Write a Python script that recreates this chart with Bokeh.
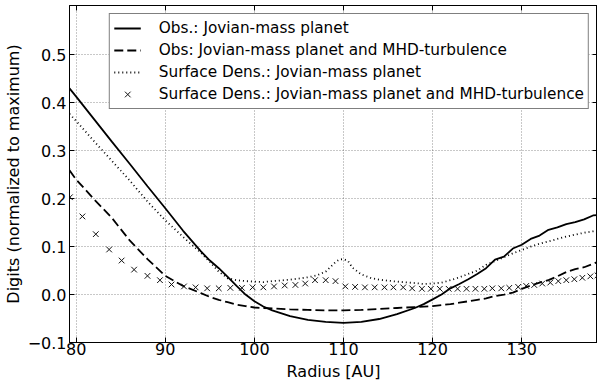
from bokeh.plotting import figure
from bokeh.models import (Range1d, LinearAxis, FixedTicker, CustomJSTickFormatter,
                          Legend, LegendItem, ColumnDataSource)
from bokeh.embed import file_html
from bokeh.resources import INLINE

# ---- data ----
radius_obs = [79.25, 80, 82, 84, 86, 88, 90, 92, 94, 95, 96, 97, 98, 99, 100, 101, 102,
              104, 106, 108, 110, 112, 114, 116, 118, 119, 120, 121, 122, 123, 124, 125,
              126, 127, 128, 129, 130, 131, 132, 133, 134, 135, 136, 137, 138, 138.5]
obs_jovian = [0.430, 0.413, 0.366, 0.319, 0.273, 0.226, 0.180, 0.133, 0.090, 0.071, 0.055,
              0.037, 0.018, 0.000, -0.014, -0.025, -0.033, -0.045, -0.053, -0.057, -0.059,
              -0.057, -0.051, -0.041, -0.028, -0.020, -0.010, 0.000, 0.013, 0.022, 0.032,
              0.043, 0.055, 0.073, 0.079, 0.096, 0.104, 0.116, 0.123, 0.135, 0.140, 0.147,
              0.151, 0.157, 0.165, 0.166]
obs_jovian_mhd = [0.259, 0.240, 0.199, 0.160, 0.113, 0.074, 0.039, 0.018, 0.003, -0.005,
                  -0.011, -0.016, -0.021, -0.024, -0.027, -0.028, -0.029, -0.031, -0.032,
                  -0.033, -0.033, -0.032, -0.030, -0.028, -0.026, -0.025, -0.024, -0.022,
                  -0.020, -0.017, -0.014, -0.011, -0.008, -0.003, 0.000, 0.004, 0.012, 0.019,
                  0.025, 0.030, 0.038, 0.047, 0.053, 0.057, 0.064, 0.068]

radius_sd = [79.25, 80, 82, 84, 86, 88, 90, 92, 94, 95, 96, 97, 98, 99, 100, 101, 102, 104,
             106, 107, 108, 109, 109.5, 110, 110.5, 111, 112, 113, 114, 116, 118, 119, 120,
             121, 122, 123, 124, 125, 126, 127, 128, 129, 130, 131, 132, 133, 134, 135, 136,
             137, 138, 138.5]
sd_jovian = [0.377, 0.362, 0.320, 0.279, 0.238, 0.194, 0.155, 0.120, 0.087, 0.068, 0.048,
             0.034, 0.030, 0.028, 0.027, 0.026, 0.028, 0.031, 0.036, 0.040, 0.048, 0.066,
             0.073, 0.074, 0.070, 0.056, 0.042, 0.035, 0.031, 0.027, 0.024, 0.022, 0.023,
             0.025, 0.030, 0.036, 0.043, 0.050, 0.062, 0.070, 0.078, 0.086, 0.093, 0.100,
             0.106, 0.111, 0.116, 0.121, 0.125, 0.129, 0.132, 0.134]

radius_sd_mhd = [79.3, 80.7, 82.2, 83.7, 85.1, 86.5, 88.0, 89.4, 90.7, 92.1, 93.4, 94.7, 96.0,
                 97.3, 98.6, 99.8, 101.0, 102.2, 103.4, 104.6, 105.7, 106.8, 108.0, 109.1,
                 110.2, 111.3, 112.4, 113.5, 114.6, 115.6, 116.7, 117.7, 118.8, 119.8, 120.8,
                 121.8, 122.8, 123.8, 124.8, 125.8, 126.7, 127.7, 128.6, 129.6, 130.5, 131.4,
                 132.3, 133.2, 134.1, 135.0, 135.9, 136.8, 137.7, 138.5]
sd_jovian_mhd = [0.203, 0.163, 0.126, 0.094, 0.071, 0.052, 0.039, 0.030, 0.021, 0.017, 0.015,
                 0.013, 0.013, 0.014, 0.014, 0.015, 0.015, 0.017, 0.019, 0.020, 0.023, 0.030,
                 0.030, 0.028, 0.017, 0.016, 0.015, 0.015, 0.015, 0.015, 0.015, 0.013, 0.012,
                 0.012, 0.012, 0.012, 0.012, 0.012, 0.012, 0.012, 0.013, 0.013, 0.014, 0.016,
                 0.018, 0.020, 0.023, 0.025, 0.028, 0.030, 0.032, 0.035, 0.038, 0.040]

x_ticks = [80, 90, 100, 110, 120, 130]
y_ticks = [-0.1, 0.0, 0.1, 0.2, 0.3, 0.4, 0.5]

labels = ["Obs.: Jovian-mass planet",
          "Obs: Jovian-mass planet and MHD-turbulence",
          "Surface Dens.: Jovian-mass planet",
          "Surface Dens.: Jovian-mass planet and MHD-turbulence"]

FONT = "DejaVu Sans"

p = figure(frame_width=528, frame_height=337, output_backend="svg", toolbar_location=None,
           title_location=None,
           x_range=Range1d(79.25, 138.5), y_range=Range1d(-0.1, 0.603),
           min_border_top=5, min_border_right=0, min_border_bottom=0, min_border_left=0)

p.outline_line_color = "black"
p.outline_line_width = 1

fmt_y = CustomJSTickFormatter(code="return tick.toFixed(1).replace('-', '\u2212');")

for ax in (p.xaxis[0], p.yaxis[0]):
    ax.major_label_text_font = FONT
    ax.major_label_text_font_size = "16px"
    ax.major_label_text_color = "black"
    ax.axis_label_text_font = FONT
    ax.axis_label_text_font_size = "16px"
    ax.axis_label_text_font_style = "normal"
    ax.axis_label_text_color = "black"
    ax.major_tick_in = 5
    ax.major_tick_out = 0
    ax.minor_tick_in = 0
    ax.minor_tick_out = 0
    ax.axis_line_color = "black"
    ax.major_tick_line_color = "black"

p.xaxis[0].ticker = FixedTicker(ticks=x_ticks)
p.yaxis[0].ticker = FixedTicker(ticks=y_ticks)
p.yaxis[0].formatter = fmt_y
p.xaxis[0].axis_label = "Radius [AU]"
p.yaxis[0].axis_label = "Digits (normalized to maximum)"
p.xaxis[0].major_label_standoff = 0
p.xaxis[0].axis_label_standoff = 4
p.yaxis[0].major_label_standoff = 3
p.yaxis[0].axis_label_standoff = 2

for loc, ticks in (("above", x_ticks), ("right", y_ticks)):
    ax = LinearAxis(ticker=FixedTicker(ticks=ticks),
                    formatter=CustomJSTickFormatter(code="return '';"),
                    major_tick_in=5, major_tick_out=0, minor_tick_in=0, minor_tick_out=0,
                    major_label_standoff=0, axis_line_color="black")
    p.add_layout(ax, loc)

for g in (p.xgrid[0], p.ygrid[0]):
    g.grid_line_color = "black"
    g.grid_line_alpha = 0.55
    g.grid_line_width = 0.8
    g.grid_line_dash = "1 2"

src_obs = ColumnDataSource(dict(x=radius_obs, a=obs_jovian, b=obs_jovian_mhd))
src_sd = ColumnDataSource(dict(x=radius_sd, c=sd_jovian))
src_x = ColumnDataSource(dict(x=radius_sd_mhd, d=sd_jovian_mhd))

r1 = p.line("x", "a", source=src_obs, line_color="black", line_width=1.8)
r2 = p.line("x", "b", source=src_obs, line_color="black", line_width=1.8, line_dash="9 4")
r3 = p.line("x", "c", source=src_sd, line_color="black", line_width=1.8, line_dash="1 3")
r4 = p.scatter("x", "d", source=src_x, marker="x", size=8, line_color="#111111", line_width=1.0)

legend = Legend(items=[LegendItem(label=labels[0], renderers=[r1]),
                       LegendItem(label=labels[1], renderers=[r2]),
                       LegendItem(label=labels[2], renderers=[r3]),
                       LegendItem(label=labels[3], renderers=[r4])],
                location="top_right")
legend.label_text_font = FONT
legend.label_text_font_size = "15.3px"
legend.label_text_color = "black"
legend.glyph_width = 27
legend.glyph_height = 20
legend.label_height = 20
legend.label_standoff = 18
legend.spacing = 2
legend.padding = 4
legend.margin = 8
legend.border_line_color = "black"
legend.border_line_width = 1
legend.background_fill_alpha = 1.0
p.add_layout(legend, "center")

open("out.html", "w").write(file_html(p, INLINE))
